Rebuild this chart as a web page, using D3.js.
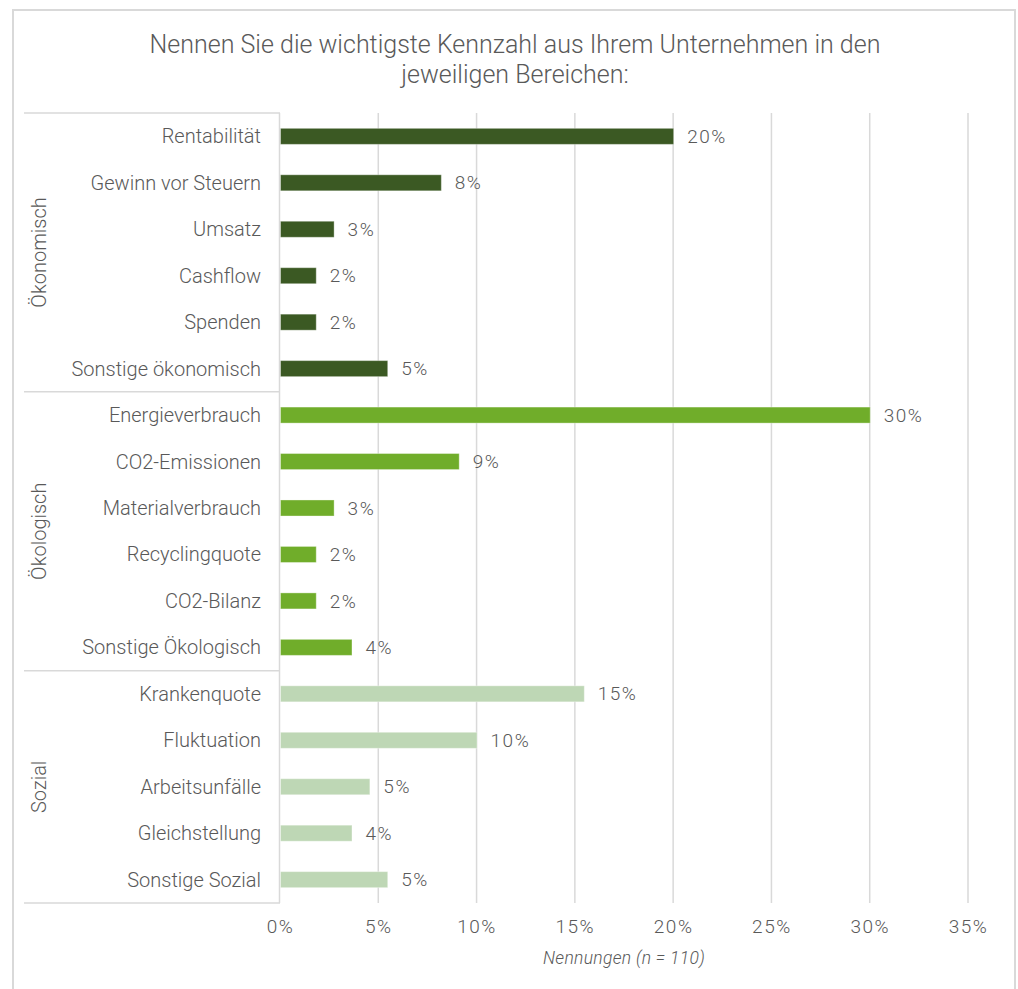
<!DOCTYPE html>
<html>
<head>
<meta charset="utf-8">
<script src="https://cdn.jsdelivr.net/npm/d3@7"></script>
<style>
  body { margin: 0; background: #fff; }
  svg text { font-family: Roboto, "Liberation Sans", sans-serif; font-weight: 300; fill: #595959; }
</style>
</head>
<body>
<div id="chart"></div>
<script>
// data (counts out of n = 110)
const groups = ['Ökonomisch', 'Ökologisch', 'Sozial']
const groupColors = ['#3b5923', '#70ad2a', '#bed7b5']
const categories = [
  ['Rentabilität', 'Gewinn vor Steuern', 'Umsatz', 'Cashflow', 'Spenden', 'Sonstige ökonomisch'],
  ['Energieverbrauch', 'CO2-Emissionen', 'Materialverbrauch', 'Recyclingquote', 'CO2-Bilanz', 'Sonstige Ökologisch'],
  ['Krankenquote', 'Fluktuation', 'Arbeitsunfälle', 'Gleichstellung', 'Sonstige Sozial']
]
const counts = [
  [22, 9, 3, 2, 2, 6],
  [33, 10, 3, 2, 2, 4],
  [17, 11, 5, 4, 6]
]
const total = 110
const xTicks = [0, 0.05, 0.1, 0.15, 0.2, 0.25, 0.3, 0.35]
const title = ['Nennen Sie die wichtigste Kennzahl aus Ihrem Unternehmen in den', 'jeweiligen Bereichen:']
const xTitle = 'Nennungen (n = 110)'

const rows = []
categories.forEach((cats, gi) => {
  cats.forEach((c, i) => {
    rows.push({ group: gi, name: c, value: counts[gi][i] / total })
  })
})

const width = 1018
const height = 989
const margin = { top: 113, left: 280, right: 50, bottom: 86 }
const plotBottom = 903

const svg = d3.select('#chart').append('svg')
  .attr('width', width)
  .attr('height', height)

// outer frame
svg.append('rect')
  .attr('x', 13).attr('y', 10)
  .attr('width', 1002).attr('height', 1000)
  .attr('fill', 'none')
  .attr('stroke', '#d9d9d9')
  .attr('stroke-width', 2)

const x = d3.scaleLinear().domain([0, 0.35]).range([margin.left, 968])
const y = d3.scaleBand()
  .domain(rows.map(d => d.name))
  .range([margin.top, plotBottom])
  .paddingInner(0.655)
  .paddingOuter(0.33)

// title
svg.append('text')
  .attr('x', 515).attr('y', 53)
  .attr('text-anchor', 'middle')
  .style('font-size', '25px')
  .selectAll('tspan').data(title).join('tspan')
  .attr('x', 515)
  .attr('dy', (d, i) => i === 0 ? 0 : 30)
  .text(d => d)

// grid lines
svg.append('g').selectAll('line').data(xTicks.slice(1)).join('line')
  .attr('x1', d => x(d)).attr('x2', d => x(d))
  .attr('y1', margin.top).attr('y2', plotBottom)
  .attr('stroke', '#d9d9d9').attr('stroke-width', 1.5)

// x axis labels
const xAxis = svg.append('g')
  .attr('transform', 'translate(0,' + plotBottom + ')')
  .call(d3.axisBottom(x).tickValues(xTicks).tickFormat(d3.format('.0%')).tickSize(0).tickPadding(17))
xAxis.select('.domain').remove()
xAxis.selectAll('text')
  .style('font-size', '19px')
  .style('letter-spacing', '1.5px')
  .attr('fill', '#595959')
  .style('font-family', 'Roboto, "Liberation Sans", sans-serif')

svg.append('text')
  .attr('x', (x(0) + x(0.35)) / 2).attr('y', 964)
  .attr('text-anchor', 'middle')
  .style('font-size', '17.5px')
  .style('font-style', 'italic')
  .style('letter-spacing', '0.3px')
  .text(xTitle)

// group box lines
const groupBounds = []
let start = 0
categories.forEach((cats, gi) => {
  const top = margin.top + start * (plotBottom - margin.top) / rows.length
  const bottom = margin.top + (start + cats.length) * (plotBottom - margin.top) / rows.length
  groupBounds.push({ gi, top, bottom })
  start += cats.length
})

svg.append('g').selectAll('line').data([margin.top].concat(groupBounds.map(g => g.bottom))).join('line')
  .attr('x1', 24).attr('x2', margin.left)
  .attr('y1', d => d).attr('y2', d => d)
  .attr('stroke', '#d9d9d9').attr('stroke-width', 1.5)

svg.append('line')
  .attr('x1', margin.left - 0.5).attr('x2', margin.left - 0.5)
  .attr('y1', margin.top).attr('y2', plotBottom)
  .attr('stroke', '#d9d9d9').attr('stroke-width', 1.5)

svg.append('g').selectAll('text').data(groupBounds).join('text')
  .attr('transform', d => 'translate(46,' + (d.top + d.bottom) / 2 + ') rotate(-90)')
  .attr('text-anchor', 'middle')
  .style('font-size', '20px')
  .text(d => groups[d.gi])

// category labels
svg.append('g').selectAll('text').data(rows).join('text')
  .attr('x', 261)
  .attr('y', d => y(d.name) + y.bandwidth() / 2)
  .attr('dy', '0.35em')
  .attr('text-anchor', 'end')
  .style('font-size', '20px')
  .text(d => d.name)

// bars
svg.append('g').selectAll('rect').data(rows).join('rect')
  .attr('x', x(0) + 0.5)
  .attr('y', d => y(d.name))
  .attr('width', d => x(d.value) - x(0))
  .attr('height', y.bandwidth())
  .attr('fill', d => groupColors[d.group])
  .attr('stroke', '#fff')
  .attr('stroke-opacity', 0.35)
  .attr('stroke-width', 1)

// value labels
svg.append('g').selectAll('text').data(rows).join('text')
  .attr('x', d => x(d.value) + 14)
  .attr('y', d => y(d.name) + y.bandwidth() / 2)
  .attr('dy', '0.35em')
  .style('font-size', '19px')
  .style('letter-spacing', '1.5px')
  .text(d => d3.format('.0%')(d.value))
</script>
</body>
</html>
